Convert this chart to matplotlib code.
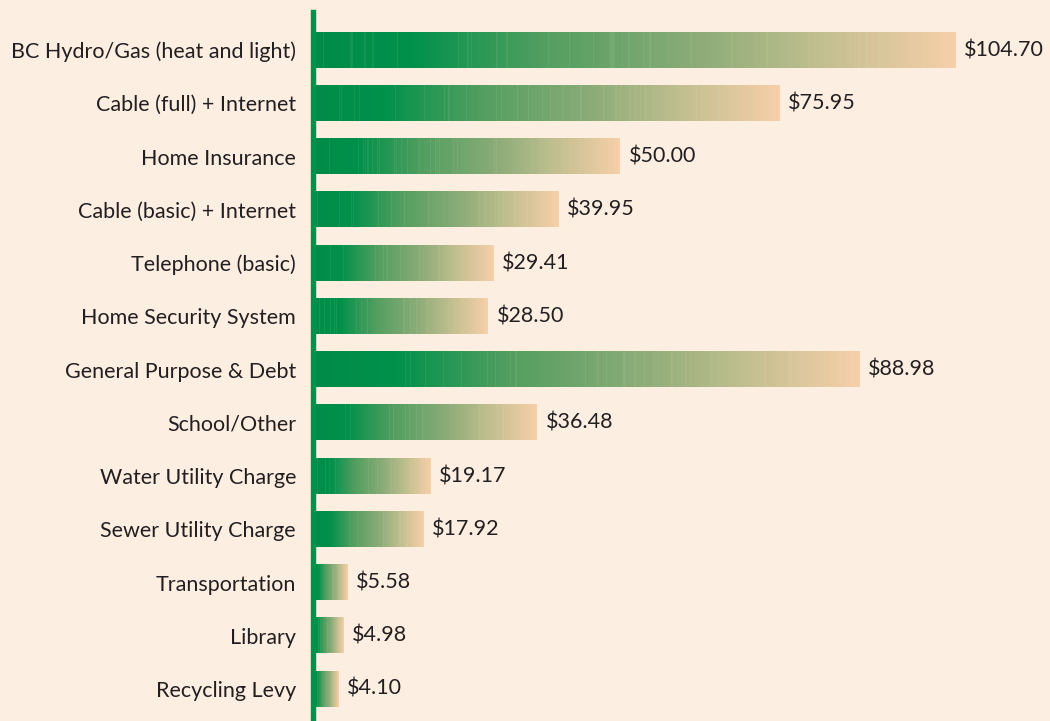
import numpy as np
import matplotlib
matplotlib.use("Agg")
import matplotlib.pyplot as plt
from matplotlib.colors import LinearSegmentedColormap

categories = [
    "BC Hydro/Gas (heat and light)",
    "Cable (full) + Internet",
    "Home Insurance",
    "Cable (basic) + Internet",
    "Telephone (basic)",
    "Home Security System",
    "General Purpose & Debt",
    "School/Other",
    "Water Utility Charge",
    "Sewer Utility Charge",
    "Transportation",
    "Library",
    "Recycling Levy",
]
values = [104.70, 75.95, 50.00, 39.95, 29.41, 28.50, 88.98, 36.48, 19.17, 17.92, 5.58, 4.98, 4.10]
value_labels = ["$104.70", "$75.95", "$50.00", "$39.95", "$29.41", "$28.50", "$88.98",
                "$36.48", "$19.17", "$17.92", "$5.58", "$4.98", "$4.10"]

BG = "#FDEEE2"
GREEN = "#00914A"
TEXT = "#231F20"
FONT = ["Lato", "DejaVu Sans"]
FS = 15.5

cmap = LinearSegmentedColormap.from_list("g2p", [
    (0.00, (0/255, 140/255, 72/255)),
    (0.15, (0/255, 145/255, 75/255)),
    (0.35, (80/255, 158/255, 95/255)),
    (0.60, (140/255, 172/255, 120/255)),
    (0.78, (190/255, 190/255, 142/255)),
    (1.00, (247/255, 207/255, 168/255)),
])

W, H = 1050, 721
fig = plt.figure(figsize=(W/100, H/100), dpi=100, facecolor=BG)
left_px, top_px = 313.25, 12
ax = fig.add_axes([left_px/W, 0, 1 - left_px/W, (H - top_px)/H])
ax.set_facecolor(BG)

px_per_unit = (956 - left_px) / 104.70
ax.set_xlim(0, (W - left_px) / px_per_unit)
ax.set_ylim(12.601, -0.714)

bar_h = 0.66
rng = np.random.default_rng(7)
for i, v in enumerate(values):
    n = 400
    t = np.linspace(0, 1, n)
    rgb = cmap(t)[:, :3]
    # subtle vertical streak texture
    streak = rng.random(n) < 0.08
    rgb[streak] = rgb[streak] * 0.92 + 0.08 * np.array([0.9, 0.92, 0.8])
    img = rgb[np.newaxis, :, :]
    ax.imshow(img, extent=[0, v, i + bar_h/2, i - bar_h/2], aspect="auto",
              interpolation="nearest", zorder=2)
    ax.annotate(value_labels[i], xy=(v, i), xytext=(6, 0), textcoords="offset points",
                va="center", ha="left", fontsize=FS, color=TEXT, family=FONT)

ax.set_yticks(range(len(categories)))
ax.set_yticklabels(categories, fontsize=FS, color=TEXT, family=FONT)
ax.tick_params(axis="y", length=0, pad=12.4)
ax.set_xticks([])
for s in ["top", "right", "bottom"]:
    ax.spines[s].set_visible(False)
ax.spines["left"].set_color(GREEN)
ax.spines["left"].set_linewidth(3.9)
ax.spines["left"].set_zorder(5)

fig.savefig("out.png", dpi=100, facecolor=BG)
